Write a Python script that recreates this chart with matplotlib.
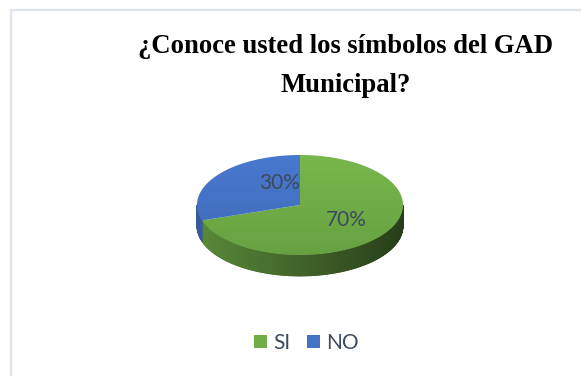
import numpy as np
import matplotlib
matplotlib.use("Agg")
import matplotlib.pyplot as plt
from matplotlib.patches import Polygon, Patch
from matplotlib.lines import Line2D
from matplotlib.colors import to_rgb

# Survey answers
categories = ["SI", "NO"]
values = [70, 30]
title_lines = ["¿Conoce usted los símbolos del GAD", "Municipal?"]

top_colors = ["#70AD47", "#4472C4"]
label_color = "#3d4a5e"

W, H = 581, 376
fig = plt.figure(figsize=(W / 100, H / 100), dpi=100)
ax = fig.add_axes([0, 0, 1, 1])
ax.set_xlim(0, W)
ax.set_ylim(H, 0)
ax.axis("off")

# Frame lines (top and left)
fig.add_artist(Line2D([11 / W, 1], [1 - 10 / H, 1 - 10 / H], color="#dfe3ea", lw=1.6))
fig.add_artist(Line2D([11 / W, 11 / W], [0, 1 - 10 / H], color="#dfe3ea", lw=1.6))

# Pie geometry (pixel space, y grows downward)
cx, cy, a, b, depth = 300, 205, 103, 50, 21


def pt(theta_deg, dy=0.0):
    t = np.radians(theta_deg)
    return cx + a * np.cos(t), cy - b * np.sin(t) + dy


def shade(color, f):
    r, g, bb = to_rgb(color)
    return (r * f, g * f, bb * f)


total = float(sum(values))
start = 90.0
spans = []
for v in values:
    end = start - 360.0 * v / total  # clockwise
    spans.append((end, start))
    start = end

# Side walls: visible front half (angles between 180 and 360)
for (t0, t1), col in zip(spans, top_colors):
    lo, hi = t0 % 360, t1 % 360
    if hi <= lo:
        hi += 360
    segs = []
    for base in (0, 360, -360):
        s0 = max(lo, 180 + base)
        s1 = min(hi, 360 + base)
        if s1 > s0:
            segs.append((s0, s1))
    for s0, s1 in segs:
        n = max(2, int((s1 - s0) * 2))
        th = np.linspace(s0, s1, n + 1)
        for i in range(n):
            xa, ya = pt(th[i])
            xb, yb = pt(th[i + 1])
            xm = 0.5 * (xa + xb)
            frac = (xm - (cx - a)) / (2 * a)
            f = 0.80 - 0.44 * frac
            poly = [(xa, ya), (xb, yb), (xb, yb + depth), (xa, ya + depth)]
            ax.add_patch(Polygon(poly, closed=True, facecolor=shade(col, f),
                                 edgecolor=shade(col, f), lw=0.6, zorder=2))

# Top faces with a soft vertical gradient
yy = np.linspace(0, 1, 200)[:, None] * np.ones((1, 200))
for (t0, t1), col in zip(spans, top_colors):
    th = np.linspace(t1, t0, 200)
    pts = [(cx, cy)] + [pt(t) for t in th]
    poly = Polygon(pts, closed=True, facecolor="none", edgecolor="none", zorder=3)
    ax.add_patch(poly)
    c1 = np.array(shade(col, 1.06)).clip(0, 1)
    c2 = np.array(shade(col, 0.93))
    img = c1[None, None, :] * (1 - yy[..., None]) + c2[None, None, :] * yy[..., None]
    im = ax.imshow(img, extent=(cx - a, cx + a, cy + b, cy - b), zorder=3,
                   interpolation="bilinear", aspect="auto")
    im.set_clip_path(poly)

ax.set_xlim(0, W)
ax.set_ylim(H, 0)

# Percentage labels
label_pos = [(346, 220), (280, 183)]
for v, (lx, ly) in zip(values, label_pos):
    ax.text(lx, ly, f"{v:.0f}%", ha="center", va="center", fontsize=15,
            color=label_color, family="Lato", zorder=5)

# Title (two centred lines)
for line, base_y in zip(title_lines, (53, 92)):
    ax.text(346, base_y, line, ha="center", va="baseline", fontsize=19.2,
            fontweight="bold", family="Liberation Serif", color="black")

# Legend
handles = [Patch(facecolor=c, edgecolor="none") for c in top_colors]
leg = fig.legend(handles, categories, loc="center", ncol=2, frameon=False,
                 bbox_to_anchor=(306 / W, 1 - 343 / H),
                 handlelength=0.62, handleheight=0.62, handletextpad=0.3,
                 columnspacing=0.8, prop={"family": "Lato", "size": 15})
for t in leg.get_texts():
    t.set_color(label_color)

fig.savefig("out.png", dpi=100)
